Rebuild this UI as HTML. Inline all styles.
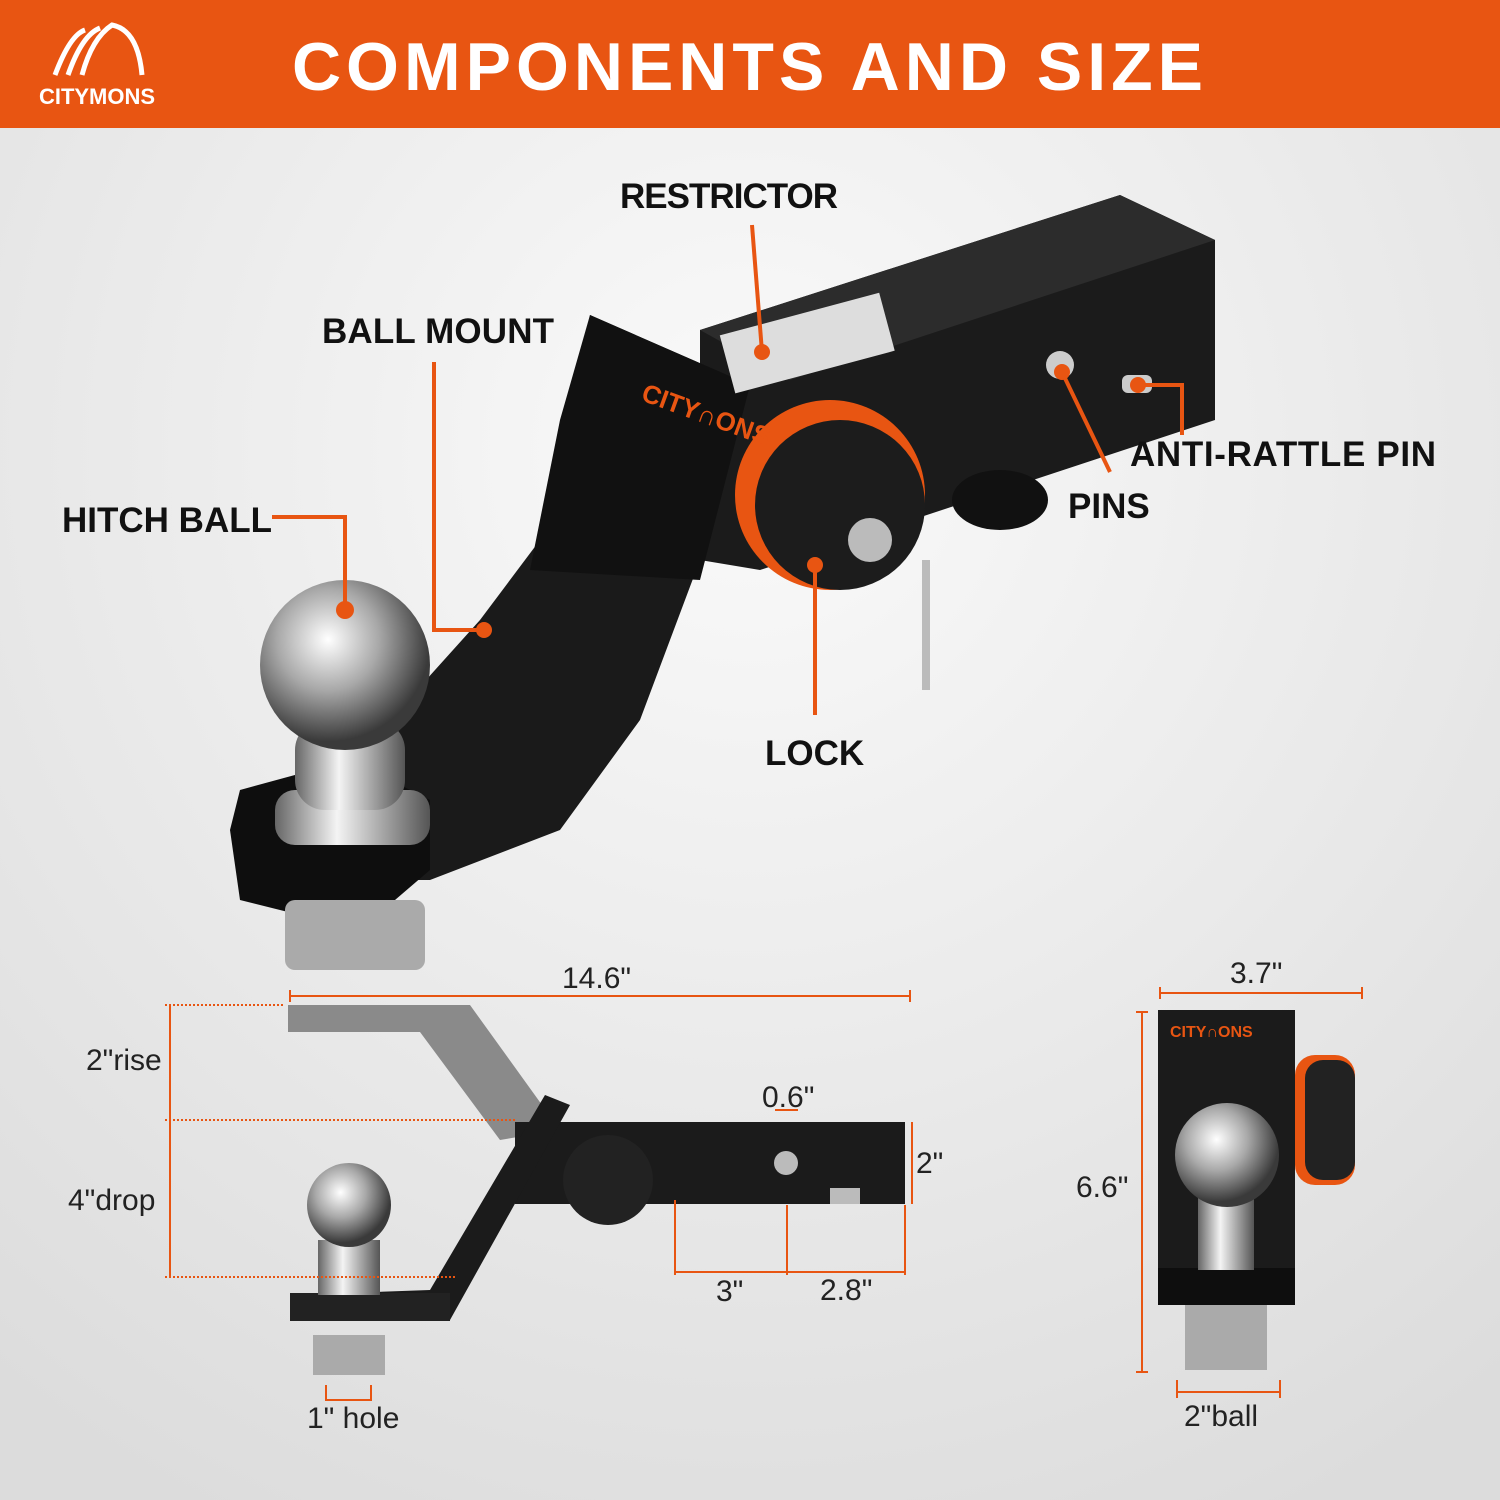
<!DOCTYPE html>
<html><head><meta charset="utf-8"><style>
body{margin:0;width:1500px;height:1500px;overflow:hidden;font-family:"Liberation Sans",sans-serif}
svg{display:block}
</style></head><body>
<svg width="1500" height="1500" viewBox="0 0 1500 1500" xmlns="http://www.w3.org/2000/svg">
<defs>
<radialGradient id="bg" cx="50%" cy="30%" r="80%"><stop offset="0" stop-color="#fafafa"/><stop offset="1" stop-color="#dcdcdc"/></radialGradient>
<radialGradient id="chrome" cx="40%" cy="35%" r="60%"><stop offset="0" stop-color="#ffffff"/><stop offset="0.5" stop-color="#a8a8a8"/><stop offset="1" stop-color="#3a3a3a"/></radialGradient>
<linearGradient id="chr2" x1="0" x2="1"><stop offset="0" stop-color="#666"/><stop offset="0.4" stop-color="#f4f4f4"/><stop offset="1" stop-color="#555"/></linearGradient>
</defs>
<rect width="1500" height="1500" fill="url(#bg)"/>
<rect width="1500" height="128" fill="#E85512"/>
<g fill="none" stroke="#fff" stroke-width="5">
<path d="M55 75 Q70 35 85 30"/><path d="M68 75 Q82 35 100 28"/><path d="M82 75 Q92 38 112 25 Q138 30 142 75"/>
</g>
<text x="97" y="104" fill="#fff" font-size="22" font-weight="bold" text-anchor="middle">CITYMONS</text>
<text x="750" y="90" fill="#fff" font-size="68" font-weight="bold" text-anchor="middle" letter-spacing="5">COMPONENTS AND SIZE</text>

<!-- main product -->
<polygon points="700,330 1120,195 1215,240 1215,420 760,570 700,560" fill="#1b1b1b"/>
<polygon points="700,330 1120,195 1215,240 790,380" fill="#2c2c2c"/>
<polygon points="590,315 750,385 700,560 640,720 560,830 430,880 350,880 300,820 480,620 540,540" fill="#1a1a1a"/>
<polygon points="590,315 750,385 700,580 530,570 560,420" fill="#111"/>
<polygon points="240,790 350,760 430,800 430,870 360,930 240,900 230,830" fill="#0e0e0e"/>
<rect x="285" y="900" width="140" height="70" rx="10" fill="#aaa"/>
<rect x="275" y="790" width="155" height="55" rx="20" fill="url(#chr2)"/>
<rect x="295" y="720" width="110" height="90" rx="30" fill="url(#chr2)"/>
<circle cx="345" cy="665" r="85" fill="url(#chrome)"/>
<rect x="725" y="315" width="165" height="60" fill="#ddd" transform="rotate(-15 800 345)"/>
<circle cx="830" cy="495" r="95" fill="#E85512"/>
<circle cx="840" cy="505" r="85" fill="#1c1c1c"/>
<circle cx="870" cy="540" r="22" fill="#bbb"/>
<ellipse cx="1000" cy="500" rx="48" ry="30" fill="#111"/>
<rect x="922" y="560" width="8" height="130" fill="#bbb"/>
<circle cx="1060" cy="365" r="14" fill="#ccc"/>
<rect x="1122" y="375" width="30" height="18" rx="6" fill="#ccc"/>
<text x="640" y="400" fill="#E85512" font-size="26" font-weight="bold" transform="rotate(20 640 400)">CITY∩ONS</text>

<g font-size="35" font-weight="bold" fill="#111" font-family="Liberation Sans, sans-serif">
<text x="620" y="208" textLength="218">RESTRICTOR</text>
<text x="322" y="343" textLength="232">BALL MOUNT</text>
<text x="62" y="532" textLength="210">HITCH BALL</text>
<text x="1130" y="466" textLength="306">ANTI-RATTLE PIN</text>
<text x="1068" y="518">PINS</text>
<text x="765" y="765">LOCK</text>
</g>
<g stroke="#E85512" stroke-width="4" fill="none">
<path d="M752 225 L762 352"/>
<path d="M434 362 V630 H484"/>
<path d="M272 517 H345 V610"/>
<path d="M1110 472 L1062 372"/>
<path d="M1138 385 H1182 V435"/>
<path d="M815 715 V565"/>
</g>
<g fill="#E85512"><circle cx="762" cy="352" r="8"/><circle cx="484" cy="630" r="8"/><circle cx="345" cy="610" r="9"/><circle cx="1062" cy="372" r="8"/><circle cx="1138" cy="385" r="8"/><circle cx="815" cy="565" r="8"/></g>

<!-- side view -->
<polygon points="288,1005 470,1005 560,1130 500,1140 420,1032 288,1032" fill="#8a8a8a"/>
<rect x="515" y="1122" width="390" height="82" fill="#1b1b1b"/>
<polygon points="545,1095 570,1105 450,1320 300,1320 290,1295 430,1290" fill="#1b1b1b"/>
<rect x="290" y="1293" width="160" height="28" fill="#222"/>
<rect x="313" y="1335" width="72" height="40" fill="#aaa"/>
<rect x="318" y="1240" width="62" height="55" fill="url(#chr2)"/>
<circle cx="349" cy="1205" r="42" fill="url(#chrome)"/>
<circle cx="608" cy="1180" r="45" fill="#222"/>
<circle cx="786" cy="1163" r="12" fill="#bbb"/>
<rect x="830" y="1188" width="30" height="16" fill="#bbb"/>
<g stroke="#E85512" stroke-width="2" fill="none">
<path d="M290 996 H910 M290 990 V1002 M910 990 V1002"/>
<path d="M165 1005 H285 M165 1120 H515 M165 1277 H455" stroke-dasharray="2,2"/>
<path d="M170 1005 V1277"/>
<path d="M912 1122 V1204"/>
<path d="M675 1272 H905 M675 1200 V1275 M787 1205 V1275 M905 1205 V1275"/>
<path d="M775 1110 H798"/>
<path d="M326 1385 V1400 H371 V1385"/>
</g>
<g font-size="30" fill="#222">
<text x="562" y="988">14.6"</text>
<text x="86" y="1070">2"rise</text>
<text x="68" y="1210">4"drop</text>
<text x="762" y="1107">0.6"</text>
<text x="916" y="1173">2"</text>
<text x="716" y="1301">3"</text>
<text x="820" y="1300">2.8"</text>
<text x="307" y="1428">1" hole</text>
<text x="1230" y="983">3.7"</text>
<text x="1076" y="1197">6.6"</text>
<text x="1184" y="1426">2"ball</text>
</g>

<!-- front view -->
<rect x="1158" y="1010" width="137" height="295" fill="#1b1b1b"/>
<rect x="1295" y="1055" width="60" height="130" rx="20" fill="#E85512"/>
<rect x="1305" y="1060" width="50" height="120" rx="18" fill="#222"/>
<rect x="1158" y="1268" width="137" height="37" fill="#0e0e0e"/>
<rect x="1185" y="1305" width="82" height="65" fill="#aaa"/>
<rect x="1198" y="1190" width="56" height="80" fill="url(#chr2)"/>
<circle cx="1227" cy="1155" r="52" fill="url(#chrome)"/>
<text x="1170" y="1037" fill="#E85512" font-size="16" font-weight="bold">CITY∩ONS</text>
<g stroke="#E85512" stroke-width="2" fill="none">
<path d="M1160 993 H1362 M1160 987 V999 M1362 987 V999"/>
<path d="M1142 1012 V1372 M1136 1012 H1148 M1136 1372 H1148"/>
<path d="M1177 1392 H1280 M1177 1380 V1398 M1280 1380 V1398"/>
</g>
</svg>
</body></html>
